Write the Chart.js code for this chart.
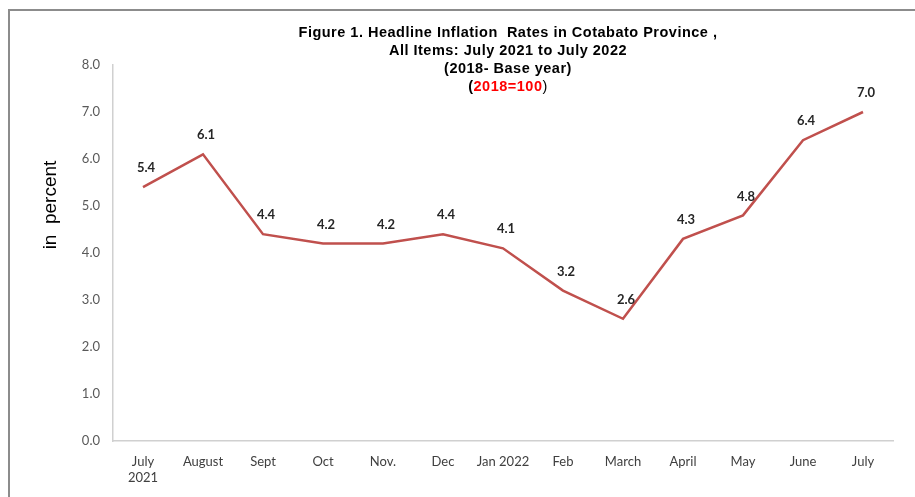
<!DOCTYPE html>
<html>
<head>
<meta charset="utf-8">
<script src="https://cdn.jsdelivr.net/npm/chart.js@4/dist/chart.umd.min.js"></script>
<style>
  html, body { margin: 0; padding: 0; background: #fff; }
  #wrap { width: 915px; height: 497px; position: relative; }
</style>
</head>
<body>
<div id="wrap"><canvas id="grafica"></canvas></div>
<script>
// ── Datos ───────────────────────────────────────────────────────────────
const meses = [['July', '2021'], 'August', 'Sept', 'Oct', 'Nov.', 'Dec', 'Jan 2022',
    'Feb', 'March', 'April', 'May', 'June', 'July'];
const inflacion = [5.4, 6.1, 4.4, 4.2, 4.2, 4.4, 4.1, 3.2, 2.6, 4.3, 4.8, 6.4, 7.0];
const yTicks = [0, 1, 2, 3, 4, 5, 6, 7, 8];

const tituloLineas = [
    'Figure 1. Headline Inflation  Rates in Cotabato Province ,',
    'All Items: July 2021 to July 2022',
    '(2018- Base year)',
];

const FUENTE_TITULO = 'bold 14.5px "Liberation Sans", Arial, sans-serif';

// Marco, título, etiqueta del eje y valores sobre los puntos
const decoracion = {
    id: 'decoracion',
    afterDraw(chart) {
        const ctx = chart.ctx;
        ctx.save();

        // marco gris
        ctx.strokeStyle = '#8c8c8c';
        ctx.lineWidth = 2;
        ctx.beginPath();
        ctx.moveTo(9, 497);
        ctx.lineTo(9, 10);
        ctx.lineTo(915, 10);
        ctx.stroke();

        // título
        ctx.letterSpacing = '0.5px';
        ctx.fillStyle = '#000';
        ctx.font = FUENTE_TITULO;
        ctx.textAlign = 'center';
        ctx.textBaseline = 'middle';
        const cx = 508;
        tituloLineas.forEach((t, i) => ctx.fillText(t, cx, 33 + i * 18));

        // (2018=100) con el centro en rojo
        const a = '(', b = '2018=100', c = ')';
        ctx.font = FUENTE_TITULO;
        const wa = ctx.measureText(a).width;
        const wb = ctx.measureText(b).width;
        ctx.font = '14.5px "Liberation Sans", Arial, sans-serif';
        const wc = ctx.measureText(c).width;
        let x = cx - (wa + wb + wc) / 2;
        ctx.textAlign = 'left';
        ctx.font = FUENTE_TITULO;
        ctx.fillStyle = '#000';
        ctx.fillText(a, x, 87);
        x += wa;
        ctx.fillStyle = '#ff0000';
        ctx.fillText(b, x, 87);
        x += wb;
        ctx.fillStyle = '#000';
        ctx.font = '14.5px "Liberation Sans", Arial, sans-serif';
        ctx.fillText(c, x, 87);
        ctx.letterSpacing = '0px';

        // etiqueta eje Y
        ctx.save();
        ctx.translate(51, 205);
        ctx.rotate(-Math.PI / 2);
        ctx.textAlign = 'center';
        ctx.fillStyle = '#000';
        ctx.font = '19px "Liberation Sans", Arial, sans-serif';
        ctx.fillText('in  percent', 0, 0);
        ctx.restore();

        // valores
        const meta = chart.getDatasetMeta(0);
        ctx.fillStyle = '#262626';
        ctx.font = 'bold 13px Lato, "Open Sans", sans-serif';
        ctx.textAlign = 'center';
        meta.data.forEach((p, i) => {
            ctx.fillText(inflacion[i].toFixed(1), p.x + 3, p.y - 19);
        });
        ctx.restore();
    },
};

const ctx = document.getElementById('grafica').getContext('2d');
new Chart(ctx, {
    type: 'line',
    data: {
        labels: meses,
        datasets: [{
            data: inflacion,
            borderColor: '#c0504d',
            borderWidth: 2.5,
            tension: 0,
            pointRadius: 0,
            fill: false,
        }],
    },
    options: {
        responsive: true,
        maintainAspectRatio: false,
        animation: false,
        devicePixelRatio: 1,
        layout: { padding: { left: 0, right: 22, top: 65, bottom: 0 } },
        plugins: {
            legend: { display: false },
            tooltip: { enabled: false },
        },
        scales: {
            x: {
                offset: true,
                afterFit: s => { s.height = 56; },
                grid: { display: false, drawTicks: false },
                border: { color: '#d0d0d0', width: 1.5 },
                ticks: {
                    color: '#404040',
                    padding: 13,
                    maxRotation: 0,
                    autoSkip: false,
                    font: { family: 'Lato, "Open Sans", sans-serif', size: 13 },
                },
            },
            y: {
                min: 0,
                max: 8,
                afterFit: s => { s.width = 113; },
                afterBuildTicks: s => { s.ticks = yTicks.map(v => ({ value: v })); },
                grid: { display: false, drawTicks: false },
                border: { color: '#d0d0d0', width: 1.5 },
                ticks: {
                    color: '#595959',
                    padding: 13,
                    font: { family: 'Lato, "Open Sans", sans-serif', size: 13 },
                    callback: v => v.toFixed(1),
                },
            },
        },
    },
    plugins: [decoracion],
});
</script>
</body>
</html>
